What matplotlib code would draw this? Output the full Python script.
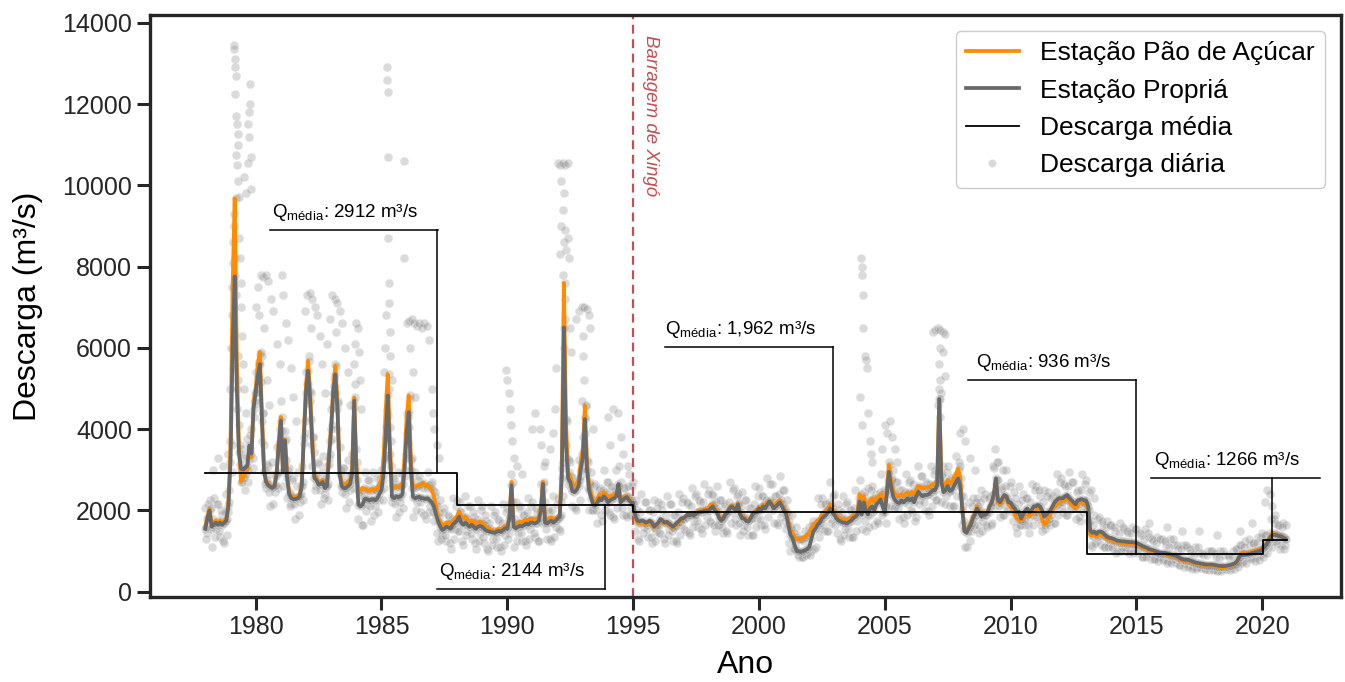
import numpy as np
import matplotlib.pyplot as plt
from matplotlib.lines import Line2D

# ------------------------------------------------------------------
# Dados (valores mensais, m³/s), jan..dez por linha
# ------------------------------------------------------------------
ano_inicio = 1978

propria = [
    1550, 1800, 2000, 1600, 1650, 1700, 1650, 1700, 1650, 1700, 1750, 2100,  # 1978
    3200, 6000, 7760, 5000, 3440, 3030, 3000, 3050, 3100, 3600, 3400, 4500,  # 1979
    4900, 5300, 5600, 4200, 2950, 2700, 2620, 2580, 2560, 2600, 2900, 3600,  # 1980
    4210, 2950, 3720, 2790, 2400, 2300, 2280, 2280, 2300, 2350, 2600, 3800,  # 1981
    4900, 5440, 4700, 3600, 2800, 2750, 2630, 2650, 2700, 2550, 2600, 3300,  # 1982
    4000, 4900, 5350, 4500, 2900, 2600, 2550, 2550, 2600, 2650, 2900, 4700,  # 1983
    3000, 2140, 2100, 2150, 2280, 2280, 2250, 2260, 2280, 2250, 2300, 2400,  # 1984
    2500, 2900, 3800, 4830, 3400, 2340, 2300, 2350, 2330, 2340, 2400, 3000,  # 1985
    3900, 4420, 3000, 2340, 2300, 2320, 2340, 2300, 2300, 2280, 2300, 2250,  # 1986
    2200, 2100, 1900, 1730, 1600, 1520, 1550, 1600, 1580, 1550, 1650, 1700,  # 1987
    1750, 1850, 1700, 1650, 1700, 1650, 1600, 1650, 1600, 1550, 1600, 1620,  # 1988
    1600, 1550, 1500, 1490, 1470, 1460, 1450, 1480, 1500, 1470, 1520, 1560,  # 1989
    1550, 1800, 2620, 1600, 1560, 1600, 1620, 1610, 1640, 1680, 1650, 1700,  # 1990
    1700, 1680, 1700, 1750, 2000, 2650, 1700, 1680, 1720, 1750, 1700, 1750,  # 1991
    1800, 1850, 2800, 6500, 3600, 2790, 2700, 2480, 2450, 2500, 2600, 3000,  # 1992
    3300, 4250, 3000, 2500, 2300, 2150, 2130, 2200, 2300, 2250, 2350, 2300,  # 1993
    2200, 2250, 2280, 2300, 2350, 2650, 2200, 2250, 2300, 2330, 2250, 2200,  # 1994
    2180, 1880, 1750, 1730, 1750, 1740, 1700, 1720, 1750, 1700, 1600, 1650,  # 1995
    1700, 1790, 1750, 1700, 1720, 1680, 1640, 1600, 1650, 1700, 1750, 1800,  # 1996
    1810, 1850, 1900, 1880, 1900, 1880, 1920, 1950, 1960, 1970, 1990, 2000,  # 1997
    1990, 2050, 2100, 2000, 1950, 1820, 1750, 1800, 1900, 1950, 2050, 2100,  # 1998
    2050, 2000, 2150, 1900, 1810, 1800, 1740, 1730, 1800, 1900, 1950, 1960,  # 1999
    2050, 2000, 2100, 2050, 2150, 2220, 2150, 2050, 2100, 2150, 2200, 2100,  # 2000
    2000, 1900, 1650, 1400, 1320, 1150, 1000, 1000, 980, 1000, 1020, 1050,  # 2001
    1100, 1300, 1490, 1550, 1650, 1700, 1800, 1850, 1890, 1950, 2050, 1950,  # 2002
    1890, 1800, 1750, 1730, 1700, 1700, 1680, 1720, 1750, 1810, 1850, 1900,  # 2003
    2220, 1900, 2200, 2000, 1900, 2050, 2100, 2000, 2150, 2200, 2270, 2100,  # 2004
    1950, 2400, 2950, 2600, 2340, 2250, 2200, 2180, 2250, 2200, 2250, 2300,  # 2005
    2250, 2300, 2200, 2350, 2460, 2400, 2350, 2380, 2380, 2400, 2450, 2500,  # 2006
    2500, 2620, 4740, 2700, 2450, 2500, 2600, 2480, 2500, 2600, 2700, 2790,  # 2007
    2600, 2000, 1490, 1450, 1560, 1650, 1800, 1900, 2050, 1950, 1850, 1900,  # 2008
    1890, 1950, 2100, 2200, 2400, 2790, 2250, 2200, 2300, 2380, 2350, 2200,  # 2009
    2200, 2100, 2050, 1950, 1970, 1800, 1900, 2000, 2050, 1950, 2000, 2100,  # 2010
    2100, 2135, 2100, 2000, 1850, 1890, 1950, 2000, 2100, 2200, 2250, 2300,  # 2011
    2300, 2300, 2350, 2380, 2300, 2260, 2200, 2150, 2250, 2260, 2280, 2250,  # 2012
    2250, 2100, 1500, 1450, 1480, 1420, 1480, 1480, 1450, 1400, 1350, 1330,  # 2013
    1320, 1300, 1280, 1255, 1250, 1240, 1240, 1230, 1225, 1220, 1220, 1210,  # 2014
    1200, 1180, 1150, 1120, 1100, 1080, 1050, 1035, 1020, 1000, 980, 960,    # 2015
    960, 955, 950, 930, 920, 910, 900, 880, 850, 820, 800, 790,              # 2016
    790, 780, 760, 740, 720, 710, 700, 690, 680, 670, 670, 670,              # 2017
    670, 660, 650, 640, 635, 630, 630, 640, 650, 660, 680, 700,              # 2018
    750, 850, 910, 910, 910, 920, 930, 950, 960, 980, 995, 1000,             # 2019
    1050, 1100, 1160, 1250, 1350, 1400, 1400, 1390, 1370, 1360, 1330, 1300,  # 2020
]

pao_acucar = [
    1600, 1850, 2050, 1700, 1700, 1750, 1700, 1750, 1700, 1750, 1800, 2200,  # 1978
    3600, 7500, 9680, 5800, 3600, 2700, 2800, 2900, 3000, 3500, 3300, 4700,  # 1979
    5000, 5600, 5900, 4400, 3000, 2750, 2650, 2600, 2580, 2620, 2950, 3700,  # 1980
    4300, 3000, 3750, 2900, 2450, 2350, 2330, 2330, 2350, 2400, 2700, 3900,  # 1981
    5100, 5680, 4900, 3800, 2900, 2800, 2700, 2700, 2750, 2600, 2650, 3400,  # 1982
    4100, 5050, 5560, 4650, 3000, 2700, 2650, 2650, 2700, 2750, 3000, 4780,  # 1983
    3200, 2450, 2500, 2550, 2530, 2500, 2480, 2500, 2520, 2500, 2550, 2650,  # 1984
    2750, 3300, 4470, 5350, 3700, 2600, 2550, 2600, 2580, 2600, 2650, 3300,  # 1985
    4300, 4830, 3300, 2600, 2580, 2600, 2620, 2650, 2680, 2600, 2620, 2550,  # 1986
    2500, 2350, 2100, 1850, 1700, 1650, 1650, 1700, 1700, 1650, 1750, 1800,  # 1987
    1850, 1980, 1850, 1800, 1850, 1780, 1720, 1750, 1720, 1680, 1700, 1720,  # 1988
    1700, 1650, 1580, 1560, 1530, 1500, 1480, 1520, 1550, 1520, 1580, 1620,  # 1989
    1600, 1850, 2700, 1700, 1650, 1700, 1720, 1700, 1750, 1780, 1750, 1800,  # 1990
    1800, 1780, 1800, 1820, 2100, 2700, 1800, 1780, 1800, 1820, 1780, 1800,  # 1991
    1850, 1900, 3200, 7600, 4200, 2950, 2850, 2650, 2600, 2650, 2750, 3200,  # 1992
    3500, 4580, 3200, 2650, 2400, 2250, 2200, 2300, 2400, 2350, 2450, 2400,  # 1993
    2300, 2350, 2350, 2400, 2400, 2600, 2300, 2300, 2350, 2350, 2300, 2250,  # 1994
    2150, 1850, 1700, 1680, 1700, 1700, 1650, 1680, 1700, 1650, 1580, 1620,  # 1995
    1650, 1750, 1720, 1680, 1700, 1650, 1600, 1580, 1620, 1680, 1720, 1780,  # 1996
    1800, 1850, 1900, 1900, 1920, 1900, 1950, 1980, 2000, 2000, 2020, 2050,  # 1997
    2050, 2150, 2150, 2050, 1980, 1850, 1800, 1850, 1920, 1980, 2080, 2120,  # 1998
    2080, 2050, 2180, 1950, 1850, 1830, 1780, 1760, 1820, 1920, 1980, 2000,  # 1999
    2080, 2050, 2150, 2100, 2200, 2250, 2200, 2100, 2150, 2220, 2250, 2150,  # 2000
    2050, 1950, 1750, 1550, 1450, 1350, 1290, 1300, 1290, 1320, 1350, 1400,  # 2001
    1450, 1550, 1650, 1700, 1750, 1800, 1900, 1950, 2000, 2050, 2150, 2050,  # 2002
    1950, 1880, 1830, 1800, 1780, 1780, 1760, 1800, 1830, 1880, 1920, 1980,  # 2003
    2400, 2100, 2350, 2150, 2100, 2250, 2300, 2200, 2300, 2350, 2400, 2250,  # 2004
    2100, 2550, 3120, 2750, 2500, 2400, 2350, 2350, 2400, 2350, 2400, 2450,  # 2005
    2400, 2450, 2380, 2500, 2600, 2580, 2550, 2550, 2560, 2580, 2600, 2650,  # 2006
    2650, 2750, 4740, 2850, 2600, 2650, 2750, 2650, 2700, 2800, 2900, 3030,  # 2007
    2800, 2100, 1550, 1500, 1600, 1700, 1850, 1950, 2100, 2000, 1900, 1950,  # 2008
    1900, 1950, 2100, 2200, 2350, 2750, 2200, 2150, 2250, 2300, 2300, 2150,  # 2009
    2100, 2000, 1900, 1800, 1770, 1750, 1800, 1900, 1950, 1850, 1900, 1950,  # 2010
    1950, 2050, 1950, 1800, 1650, 1700, 1800, 1900, 2000, 2100, 2150, 2200,  # 2011
    2200, 2250, 2250, 2300, 2200, 2150, 2100, 2050, 2150, 2200, 2200, 2150,  # 2012
    2150, 2000, 1400, 1380, 1420, 1360, 1400, 1420, 1380, 1340, 1300, 1280,  # 2013
    1270, 1250, 1230, 1210, 1200, 1190, 1190, 1180, 1180, 1170, 1170, 1160,  # 2014
    1150, 1130, 1110, 1080, 1060, 1040, 1010, 1000, 990, 970, 950, 930,      # 2015
    930, 930, 920, 900, 890, 880, 870, 850, 820, 790, 770, 760,              # 2016
    760, 750, 730, 710, 690, 680, 670, 660, 650, 640, 640, 640,              # 2017
    640, 630, 620, 610, 610, 600, 610, 620, 630, 640, 660, 690,              # 2018
    740, 860, 950, 960, 950, 960, 970, 990, 1000, 1020, 1030, 1040,          # 2019
    1080, 1130, 1200, 1300, 1400, 1450, 1420, 1400, 1380, 1360, 1340, 1300,  # 2020
]

# descarga diária: amostras no início de cada mês
diaria = [
    2050, 1450, 2250, 1100, 2300, 1550, 2150, 1350, 1900, 1200, 2400, 1950,  # 1978
    3700, 5500, 8200, 4500, 4100, 2700, 3300, 2500, 3750, 3250, 4000, 4300,  # 1979
    5400, 4950, 5850, 3700, 3600, 2550, 3100, 2100, 3200, 2450, 3550, 3450,  # 1980
    4700, 2600, 3950, 2300, 3050, 2150, 2800, 1800, 2950, 2200, 3100, 3650,  # 1981
    5400, 5100, 4950, 3100, 3450, 2600, 3150, 2150, 3350, 2400, 3100, 3150,  # 1982
    4500, 4550, 5600, 4000, 3550, 2450, 3050, 2050, 3250, 2500, 3400, 4550,  # 1983
    3500, 1800, 2350, 1650, 2950, 2150, 2750, 1750, 2950, 2100, 2800, 2250,  # 1984
    3000, 2550, 4050, 4350, 4050, 2200, 2800, 1850, 2950, 2200, 2900, 2850,  # 1985
    4400, 4050, 3250, 1850, 2950, 2200, 2850, 1950, 2550, 1800, 2950, 2100,  # 1986
    2700, 1750, 2150, 1250, 2250, 1400, 2050, 1250, 1850, 1050, 2300, 1550,  # 1987
    2250, 1500, 1950, 1150, 2350, 1500, 2100, 1300, 1850, 1050, 2250, 1450,  # 1988
    2100, 1200, 1750, 1000, 2100, 1300, 1950, 1100, 1750, 1000, 2150, 1400,  # 1989
    2050, 1450, 2900, 1100, 2200, 1450, 2100, 1250, 1900, 1150, 2300, 1550,  # 1990
    2200, 1350, 1950, 1250, 2650, 2500, 2200, 1300, 1950, 1250, 2350, 1600,  # 1991
    2300, 1500, 3050, 6000, 4250, 2650, 3200, 2100, 2700, 2000, 3250, 2850,  # 1992
    3800, 3900, 3250, 2000, 2950, 2000, 2650, 1700, 2550, 1750, 3000, 2150,  # 1993
    2700, 1900, 2550, 1800, 3000, 2500, 2700, 1900, 2550, 1850, 2900, 2050,  # 1994
    2700, 1500, 2000, 1250, 2400, 1600, 2200, 1350, 2000, 1200, 2250, 1500,  # 1995
    2200, 1450, 2000, 1200, 2350, 1550, 2150, 1250, 1900, 1200, 2400, 1650,  # 1996
    2300, 1500, 2150, 1400, 2550, 1750, 2400, 1600, 2200, 1450, 2650, 1850,  # 1997
    2500, 1700, 2350, 1500, 2600, 1650, 2250, 1450, 2150, 1450, 2700, 1950,  # 1998
    2550, 1650, 2400, 1400, 2450, 1650, 2250, 1400, 2050, 1400, 2600, 1800,  # 1999
    2550, 1650, 2350, 1550, 2800, 2050, 2650, 1700, 2350, 1650, 2850, 1950,  # 2000
    2500, 1550, 1900, 1000, 1900, 1050, 1400, 850, 1300, 850, 1500, 950,     # 2001
    1600, 1000, 1750, 1100, 2300, 1550, 2300, 1500, 2150, 1500, 2700, 1800,  # 2002
    2400, 1450, 2000, 1250, 2350, 1550, 2200, 1350, 2000, 1350, 2500, 1750,  # 2003
    2750, 1550, 2450, 1500, 2550, 1900, 2600, 1650, 2400, 1700, 2900, 1950,  # 2004
    2450, 2050, 3200, 2100, 3000, 2100, 2700, 1800, 2500, 1700, 2900, 2150,  # 2005
    2750, 1950, 2450, 1850, 3100, 2250, 2850, 2000, 2650, 1900, 3100, 2350,  # 2006
    3000, 2250, 5000, 2200, 3100, 2350, 3100, 2100, 2750, 2100, 3350, 2650,  # 2007
    3100, 1650, 1750, 1100, 2200, 1500, 2300, 1550, 2300, 1450, 2500, 1750,  # 2008
    2400, 1600, 2350, 1700, 3050, 2650, 2750, 1850, 2550, 1900, 3000, 2050,  # 2009
    2700, 1750, 2300, 1450, 2600, 1650, 2400, 1650, 2300, 1450, 2650, 1950,  # 2010
    2600, 1800, 2350, 1500, 2500, 1750, 2450, 1650, 2350, 1700, 2900, 2150,  # 2011
    2800, 1950, 2600, 1900, 2950, 2100, 2700, 1800, 2500, 1750, 2900, 2100,  # 2012
    2750, 1750, 1750, 1100, 1900, 1250, 1850, 1150, 1650, 1100, 1750, 1200,  # 2013
    1650, 1050, 1500, 1000, 1700, 1100, 1550, 1000, 1450, 1000, 1600, 1100,  # 2014
    1550, 950, 1400, 850, 1550, 950, 1350, 800, 1250, 800, 1350, 850,        # 2015
    1300, 800, 1150, 750, 1300, 800, 1150, 700, 1050, 650, 1150, 700,        # 2016
    1100, 650, 950, 600, 1100, 620, 950, 580, 900, 560, 1000, 600,           # 2017
    1000, 560, 850, 540, 1000, 560, 900, 560, 850, 580, 1000, 650,           # 2018
    1050, 700, 1150, 750, 1250, 820, 1150, 800, 1200, 850, 1350, 900,        # 2019
    1450, 950, 1400, 1100, 1800, 1250, 1700, 1200, 1650, 1150, 1700, 1150,   # 2020
]

# descarga diária: amostras no meio de cada mês
diaria_meio = [
    1300, 2150, 1550, 1800, 1350, 2150, 1500, 2000, 1250, 1950, 1400, 2500,  # 1978
    2950, 6350, 7300, 5200, 3150, 3500, 2850, 3350, 2700, 3850, 3050, 4900,  # 1979
    4650, 5650, 5150, 4400, 2650, 3150, 2450, 2900, 2150, 2850, 2550, 4000,  # 1980
    3950, 3300, 3250, 3000, 2100, 2750, 2150, 2600, 1900, 2600, 2250, 4200,  # 1981
    4650, 5800, 4250, 3800, 2500, 3200, 2500, 2950, 2300, 2800, 2250, 3700,  # 1982
    3750, 5250, 4900, 4700, 2600, 3050, 2400, 2850, 2200, 2900, 2550, 5100,  # 1983
    2750, 2500, 1650, 2350, 1980, 2750, 2100, 2550, 1900, 2500, 1950, 2800,  # 1984
    2250, 3250, 3350, 5000, 3100, 2800, 2150, 2650, 1950, 2600, 2050, 3400,  # 1985
    3650, 4750, 2550, 2550, 2000, 2750, 2200, 2600, 1900, 2550, 1950, 2650,  # 1986
    1950, 2450, 1450, 1950, 1300, 1950, 1400, 1900, 1200, 1800, 1300, 2100,  # 1987
    1500, 2200, 1250, 1850, 1400, 2100, 1450, 1950, 1200, 1800, 1250, 2000,  # 1988
    1350, 1900, 1050, 1700, 1150, 1900, 1300, 1800, 1100, 1700, 1150, 1950,  # 1989
    1300, 2150, 2200, 1800, 1250, 2050, 1450, 1900, 1250, 1950, 1300, 2100,  # 1990
    1450, 2050, 1250, 1950, 1700, 3100, 1550, 2000, 1300, 2000, 1350, 2150,  # 1991
    1550, 2200, 2350, 6700, 3300, 3250, 2550, 2800, 2050, 2750, 2250, 3400,  # 1992
    3050, 4600, 2550, 2700, 2000, 2600, 2000, 2500, 1900, 2500, 2000, 2700,  # 1993
    1950, 2600, 1850, 2500, 2050, 3100, 2050, 2550, 1900, 2600, 1900, 2600,  # 1994
    1950, 2250, 1300, 1950, 1450, 2200, 1550, 2000, 1350, 1950, 1250, 2050,  # 1995
    1450, 2150, 1300, 1900, 1400, 2150, 1500, 1900, 1250, 1950, 1400, 2200,  # 1996
    1550, 2200, 1450, 2100, 1600, 2350, 1750, 2250, 1550, 2200, 1650, 2400,  # 1997
    1750, 2400, 1650, 2200, 1650, 2250, 1600, 2100, 1500, 2200, 1700, 2500,  # 1998
    1800, 2350, 1700, 2100, 1500, 2250, 1600, 2050, 1400, 2150, 1600, 2350,  # 1999
    1800, 2350, 1650, 2250, 1850, 2650, 2000, 2350, 1700, 2400, 1850, 2500,  # 2000
    1750, 2250, 1200, 1600, 1050, 1600, 900, 1300, 850, 1250, 900, 1450,     # 2001
    900, 1650, 1050, 1750, 1350, 2150, 1650, 2150, 1500, 2200, 1700, 2350,   # 2002
    1650, 2150, 1300, 1950, 1400, 2150, 1550, 2000, 1350, 2050, 1500, 2300,  # 2003
    1950, 2250, 1750, 2200, 1600, 2500, 1950, 2300, 1750, 2450, 1900, 2500,  # 2004
    1700, 2750, 2500, 2800, 2050, 2700, 2050, 2500, 1850, 2450, 1900, 2700,  # 2005
    2000, 2650, 1750, 2550, 2150, 2850, 2200, 2700, 1980, 2650, 2100, 2900,  # 2006
    2250, 2950, 4300, 2900, 2150, 2950, 2450, 2800, 2100, 2850, 2350, 3200,  # 2007
    2350, 2350, 1100, 1650, 1250, 2100, 1650, 2200, 1650, 2200, 1500, 2300,  # 2008
    1650, 2300, 1650, 2400, 2100, 3200, 2100, 2500, 1900, 2600, 2000, 2600,  # 2009
    1950, 2450, 1600, 2150, 1650, 2250, 1750, 2300, 1650, 2200, 1650, 2500,  # 2010
    1850, 2500, 1650, 2200, 1550, 2350, 1800, 2300, 1700, 2450, 1900, 2700,  # 2011
    2050, 2650, 1900, 2600, 2000, 2700, 2050, 2450, 1850, 2500, 1950, 2650,  # 2012
    2000, 2450, 1150, 1650, 1200, 1800, 1350, 1750, 1100, 1600, 1100, 1650,  # 2013
    1100, 1600, 950, 1450, 1000, 1600, 1100, 1500, 950, 1450, 950, 1550,     # 2014
    1000, 1450, 850, 1300, 850, 1450, 950, 1300, 800, 1200, 750, 1300,       # 2015
    780, 1250, 700, 1100, 700, 1300, 800, 1150, 650, 1050, 600, 1150,        # 2016
    620, 1050, 560, 920, 570, 1100, 620, 950, 550, 900, 540, 1000,           # 2017
    540, 950, 520, 820, 520, 1000, 560, 900, 540, 880, 560, 1050,            # 2018
    600, 1150, 700, 1100, 700, 1300, 820, 1200, 760, 1200, 780, 1350,        # 2019
    850, 1400, 950, 1450, 1100, 1800, 1250, 1650, 1050, 1600, 1050, 1650,    # 2020
]

# pontos diários de cheia (ano decimal, descarga)
picos_ano = [
    1979.12, 1979.15, 1979.17, 1979.18, 1979.20, 1979.17, 1979.22, 1979.25, 1979.28, 1979.30,
    1979.20, 1979.26, 1979.30, 1979.32, 1979.15, 1979.12, 1979.10, 1979.08, 1979.33, 1979.36,
    1979.06, 1979.05, 1979.40, 1979.42, 1979.03, 1979.45, 1979.50, 1979.00, 1979.55, 1979.60,
    1979.78, 1979.76, 1979.72, 1979.68, 1979.75, 1979.80, 1979.70, 1979.82, 1979.55, 1979.60,
    1980.00, 1980.10, 1980.20, 1980.30, 1980.40, 1980.50, 1980.15, 1980.35, 1980.60, 1980.70,
    1980.85, 1980.95, 1981.05, 1981.10, 1981.20, 1981.30, 1981.40, 1981.50, 1981.60, 1980.25,
    1980.45, 1980.55,
    1981.95, 1982.05, 1982.15, 1982.25, 1982.35, 1982.45, 1982.55, 1982.65, 1982.75, 1982.85,
    1982.95, 1983.05, 1983.15, 1983.25, 1983.35, 1983.45, 1983.55, 1983.65, 1983.75, 1982.20,
    1983.20,
    1983.95, 1984.00, 1984.05, 1984.10, 1984.15, 1984.20, 1983.90,
    1985.20, 1985.22, 1985.24, 1985.26, 1985.25, 1985.28, 1985.30, 1985.18, 1985.32, 1985.15,
    1985.35, 1985.90, 1985.88, 1985.40, 1985.10,
    1986.00, 1986.10, 1986.20, 1986.30, 1986.40, 1986.50, 1986.60, 1986.70, 1986.80, 1986.90,
    1987.00, 1987.05, 1986.15, 1986.25, 1986.35, 1987.10, 1987.20, 1987.30,
    1978.30, 1978.50, 1978.70, 1978.90,
    1989.95, 1990.00, 1990.05, 1990.10, 1990.15, 1990.20, 1990.25, 1990.40, 1990.60,
    1991.00, 1991.10, 1991.30, 1991.35, 1991.50, 1991.70, 1991.80,
    1992.00, 1992.10, 1992.20, 1992.30, 1992.40, 1992.15, 1992.25, 1992.20, 1992.15, 1992.30,
    1992.25, 1992.35, 1992.10, 1992.40, 1992.45, 1992.20, 1992.30, 1992.50, 1992.55, 1991.95,
    1991.90,
    1992.75, 1992.85, 1992.95, 1993.05, 1993.15, 1993.25, 1993.30, 1993.00, 1993.00, 1993.05,
    1992.95, 1993.10, 1993.40,
    1994.00, 1994.20, 1994.40, 1994.50, 1994.60, 1994.80, 1994.10,
    2004.05, 2004.08, 2004.10, 2004.12, 2004.15, 2004.20, 2004.25, 2004.30, 2004.00, 2004.35,
    2004.10, 2004.40, 2004.45, 2004.50,
    2005.00, 2005.10, 2005.20, 2005.30, 2005.40, 2005.50, 2004.90,
    2006.90, 2007.00, 2007.10, 2007.20, 2007.30, 2007.40, 2007.20, 2007.15, 2007.20, 2007.25,
    2007.10, 2007.30, 2007.40,
    2008.00, 2008.10, 2008.20, 2008.40, 2008.60, 2009.40, 2009.50, 2009.30, 2009.70,
    2013.20, 2013.30, 2015.50, 2016.20, 2016.80, 2017.50, 2018.20, 2019.10, 2019.60, 2020.10,
    2020.20, 2020.30, 2020.40, 2020.50,
]
picos_q = [
    13450, 13350, 13100, 12900, 12700, 12250, 11700, 11500, 11250, 11000,
    10750, 10500, 10100, 9700, 9300, 9000, 8600, 8100, 8700, 8200,
    7500, 6800, 7600, 7000, 6000, 6300, 5600, 5000, 5000, 4400,
    12500, 12000, 11800, 11500, 11200, 10700, 10550, 9900, 10200, 9800,
    7000, 7500, 7800, 7750, 7800, 7650, 6800, 6500, 7200, 6900,
    6100, 5600, 7800, 7300, 6600, 6200, 5500, 4800, 4200, 5800,
    5200, 4600,
    6900, 7300, 7350, 7200, 7000, 6800, 6300, 5600, 4900, 6100,
    6700, 7300, 7200, 7100, 6900, 6600, 6000, 5400, 4600, 6500,
    6400,
    6100, 6600, 6500, 5900, 5200, 4500, 5600,
    12900, 12600, 12300, 10700, 8700, 7600, 7100, 6800, 6400, 6000,
    5800, 10600, 8200, 5200, 5400,
    6600, 6650, 6700, 6600, 6550, 6600, 6500, 6600, 6550, 6200,
    5000, 4400, 6000, 5400, 4800, 4000, 3600, 3300,
    3000, 3300, 3100, 3400,
    5450, 5200, 4900, 4500, 4100, 3700, 3300, 3100, 2900,
    4000, 4400, 4000, 3600, 3200, 3500, 3900,
    10550, 10500, 10550, 10500, 10550, 10100, 9800, 9400, 9000, 8900,
    8600, 8400, 8300, 8700, 8200, 7800, 7200, 6500, 5900, 5500,
    4500,
    6700, 6900, 7000, 7000, 6950, 6800, 6500, 6300, 5800, 5200,
    4700, 4300, 4000,
    4300, 4500, 4400, 3800, 3400, 3100, 3600,
    8200, 8000, 7800, 7300, 6500, 5800, 5700, 5500, 4800, 4400,
    4100, 3700, 3400, 3200,
    4100, 3900, 4200, 3800, 3500, 3200, 3500,
    6400, 6450, 6500, 6450, 6400, 6350, 6000, 5600, 5200, 4900,
    4600, 5900, 5300,
    3900, 4000, 3700, 3300, 3000, 3500, 3200, 3100, 3000,
    2500, 2300, 1700, 1600, 1500, 1500, 1400, 1500, 1700, 2200,
    2500, 2400, 2100, 1900,
]

# descarga média por período
periodos = [1978.0, 1988.0, 1995.0, 2013.05, 2020.05, 2021.0]
q_media = [2912, 2144, 1962, 936, 1266]
rotulos_media = ["2912", "2144", "1,962", "936", "1266"]

ano_barragem = 1995

# ------------------------------------------------------------------
plt.rcParams['font.family'] = ['Liberation Sans', 'DejaVu Sans']
plt.rcParams['axes.edgecolor'] = '#262626'
plt.rcParams['axes.linewidth'] = 2.4
plt.rcParams['xtick.color'] = '#262626'
plt.rcParams['ytick.color'] = '#262626'
plt.rcParams['xtick.major.size'] = 9.5
plt.rcParams['ytick.major.size'] = 9.5
plt.rcParams['xtick.major.width'] = 2.2
plt.rcParams['ytick.major.width'] = 2.2
plt.rcParams['mathtext.default'] = 'regular'

anos = ano_inicio + np.arange(len(propria)) / 12.0
anos_meio = anos + 1 / 24.0

fig = plt.figure(figsize=(13.45, 6.82), dpi=100)
ax = fig.add_axes([0.1115, 0.1246, 0.8855, 0.8534])

estilo_pontos = dict(s=40, color='gray', alpha=0.28, edgecolor='white', linewidths=0.6, zorder=1)
ax.scatter(anos, diaria, **estilo_pontos)
ax.scatter(anos_meio, diaria_meio, **estilo_pontos)
ax.scatter(anos, propria, **estilo_pontos)
ax.scatter(anos_meio, pao_acucar, **estilo_pontos)
ax.scatter(picos_ano, picos_q, **estilo_pontos)

ax.plot(anos, pao_acucar, color='darkorange', lw=2.7, zorder=3)
ax.plot(anos, propria, color='dimgray', lw=2.7, zorder=4)

ax.step(periodos, q_media + [q_media[-1]], where='post', color='black', lw=1.3, zorder=5)

# barragem de Xingó
ax.axvline(ano_barragem, color='#c44e52', lw=1.6, ls=(0, (4, 2.5)), zorder=2)
ax.text(ano_barragem + 0.35, 13700, 'Barragem de Xingó', rotation=270, color='#c44e52',
        fontsize=13.5, style='italic', ha='left', va='top')


# anotações das médias
def anotar(x0, y_linha, x_vert, q, rotulo):
    x1 = x0 + 6.68
    ax.plot([x0, x1], [y_linha, y_linha], color='black', lw=1.1, zorder=5)
    ax.plot([x_vert, x_vert], [y_linha, q], color='black', lw=1.1, zorder=5)
    ax.text(x0 + 0.45 * (x1 - x0), y_linha + 170, r'Q$_{média}$: ' + rotulo + ' m³/s',
            ha='center', va='bottom', fontsize=13.5)


anotar(1980.56, 8900, 1987.2, q_media[0], rotulos_media[0])
anotar(1987.2, 70, 1993.87, q_media[1], rotulos_media[1])
anotar(1996.26, 6020, 2002.94, q_media[2], rotulos_media[2])
anotar(2008.3, 5210, 2014.98, q_media[3], rotulos_media[3])
anotar(2015.6, 2800, 2020.4, q_media[4], rotulos_media[4])

ax.set_xlim(1975.8, 2023.13)
ax.set_ylim(-130, 14190)
ax.set_xticks(np.arange(1980, 2021, 5))
ax.set_yticks(np.arange(0, 14001, 2000))
ax.tick_params(labelsize=18)
ax.set_xlabel('Ano', fontsize=23, labelpad=8)
ax.set_ylabel('Descarga (m³/s)', fontsize=23, labelpad=14)

alcas = [
    Line2D([], [], color='darkorange', lw=2.7),
    Line2D([], [], color='dimgray', lw=2.7),
    Line2D([], [], color='black', lw=1.3),
    Line2D([], [], ls='none', marker='o', markersize=6, color='gray', alpha=0.3,
           markeredgecolor='white'),
]
nomes = ['Estação Pão de Açúcar', 'Estação Propriá', 'Descarga média', 'Descarga diária']
leg = ax.legend(alcas, nomes, loc='upper right', fontsize=19, frameon=True,
                edgecolor='#cccccc', framealpha=1, handlelength=2.0, labelspacing=0.5,
                borderaxespad=0.6)
leg.set_zorder(10)

fig.savefig('out.png', dpi=100)
